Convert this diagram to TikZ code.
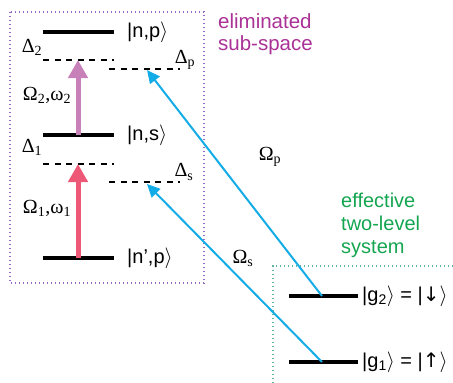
\documentclass[tikz,border=0pt]{standalone}
\usepackage{fontspec}
\setmainfont{Liberation Sans}
\newfontfamily\greekfont{Liberation Serif}
\newfontfamily\arrowfont{DejaVu Sans}
\usetikzlibrary{positioning}
\usetikzlibrary{arrows.meta}
\definecolor{boxpurple}{RGB}{150,105,195}
\definecolor{boxgreen}{RGB}{95,180,160}
\definecolor{textpurple}{RGB}{170,50,150}
\definecolor{textgreen}{RGB}{20,165,80}
\definecolor{laserblue}{RGB}{20,172,230}
\definecolor{pumppink}{RGB}{200,128,185}
\definecolor{pumpred}{RGB}{236,88,118}
\tikzset{
energy_level/.style={line width=4pt},
virtual_level/.style={line width=2pt, dash pattern=on 6pt off 5.5pt},
sub_box/.style={line width=1.3pt, dash pattern=on 1.3pt off 2.7pt},
pump_arrow/.style={line width=5pt, -{Triangle[width=19pt,length=18pt]}},
laser/.style={line width=2pt, color=laserblue, -{Triangle[width=12pt,length=13pt]}},
ket/.style={font=\fontsize{20}{23}\selectfont, inner sep=0pt, anchor=west},
greek/.style={font=\fontsize{20}{23}\greekfont, inner sep=0pt},
caption/.style={font=\fontsize{20.5}{22}\selectfont, inner sep=0pt, align=left, anchor=north west}
}

\begin{document}
\begin{tikzpicture}[x=1pt,y=-1pt]
    \useasboundingbox (0,0) rectangle (453,383);
    \draw[sub_box, boxpurple] (10,12) rectangle (204,283);
    \draw[sub_box, boxgreen] (273,383) |- (453,266);
    % levels
    \coordinate (np_l) at (43,32);   \coordinate (np_r) at (114,32);
    \coordinate (ns_l) at (43,135);  \coordinate (ns_r) at (114,135);
    \coordinate (npp_l) at (43,258); \coordinate (npp_r) at (114,258);
    \coordinate (v2_l) at (43,60);   \coordinate (v2_r) at (114,60);
    \coordinate (vp_l) at (109,69);  \coordinate (vp_r) at (180,69);
    \coordinate (v1_l) at (43,164);  \coordinate (v1_r) at (114,164);
    \coordinate (vs_l) at (109,182); \coordinate (vs_r) at (180,182);
    \coordinate (g2_l) at (289,296); \coordinate (g2_r) at (358,296);
    \coordinate (g1_l) at (289,362); \coordinate (g1_r) at (358,362);
    \draw[energy_level] (np_l) -- (np_r);
    \draw[energy_level] (ns_l) -- (ns_r);
    \draw[energy_level] (npp_l) -- (npp_r);
    \draw[energy_level] (g2_l) -- (g2_r);
    \draw[energy_level] (g1_l) -- (g1_r);
    \draw[virtual_level] (v2_l) -- (v2_r);
    \draw[virtual_level] (vp_l) -- (vp_r);
    \draw[virtual_level] (v1_l) -- (v1_r);
    \draw[virtual_level] (vs_l) -- (vs_r);
    \node[ket, right=13pt of np_r] (np) {|n,p$\rangle$};
    \node[ket, right=13pt of ns_r] (ns) {|n,s$\rangle$};
    \node[ket, right=13pt of npp_r] (npp) {|n',p$\rangle$};
    \node[ket, right=4pt of g2_r] (g2) {|g\textsubscript{2}$\rangle$ = |{\arrowfont↓}$\rangle$};
    \node[ket, right=4pt of g1_r] (g1) {|g\textsubscript{1}$\rangle$ = |{\arrowfont↑}$\rangle$};
    % detunings and couplings
    \node[greek] (d2) at (32,47) {Δ\textsubscript{2}};
    \node[greek] (dp) at (185,60) {Δ\textsubscript{p}};
    \node[greek] (d1) at (32,147) {Δ\textsubscript{1}};
    \node[greek] (ds) at (184,172) {Δ\textsubscript{s}};
    \node[greek] (om2) at (47,95) {Ω\textsubscript{2},ω\textsubscript{2}};
    \node[greek] (om1) at (47,208) {Ω\textsubscript{1},ω\textsubscript{1}};
    \node[greek] (omp) at (270,157) {Ω\textsubscript{p}};
    \node[greek] (oms) at (243,258) {Ω\textsubscript{s}};
    \coordinate (pump2_a) at (78,135); \coordinate (pump2_b) at (78,60);
    \coordinate (pump1_a) at (78,258); \coordinate (pump1_b) at (78,164);
    \coordinate (laserp_a) at (322,296); \coordinate (laserp_b) at (147,70);
    \coordinate (lasers_a) at (322,362); \coordinate (lasers_b) at (147,184);
    \draw[pump_arrow, pumppink] (pump2_a) -- (pump2_b);
    \draw[pump_arrow, pumpred] (pump1_a) -- (pump1_b);
    \draw[laser] (laserp_a) -- (laserp_b);
    \draw[laser] (lasers_a) -- (lasers_b);
    % captions
    \node[caption, textpurple] (elim) at (218,13) {eliminated\\sub-space};
    \node[caption, textgreen, font=\fontsize{20}{23}\selectfont] (eff) at (341,193) {effective\\two-level\\system};
\end{tikzpicture}
\end{document}
